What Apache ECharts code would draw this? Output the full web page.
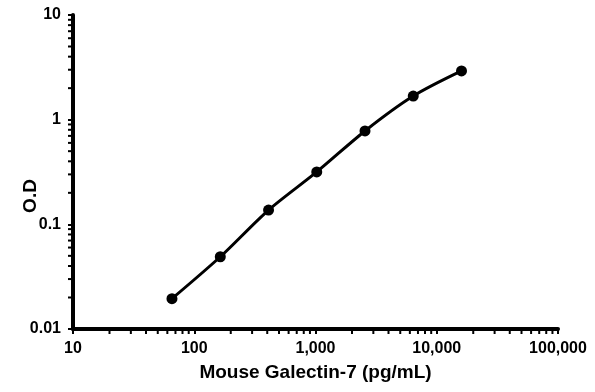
<!DOCTYPE html>
<html><head><meta charset="utf-8">
<script src="https://cdn.jsdelivr.net/npm/echarts@6/dist/echarts.min.js"></script>
<style>html,body{margin:0;padding:0;background:#fff}#c{width:595px;height:392px}</style>
</head><body><div id="c"></div>
<script>
const concentrations = [65.5, 164, 410, 1024, 2560, 6400, 16000];
const odValues = [0.0195, 0.049, 0.137, 0.317, 0.78, 1.68, 2.92];
const xTitle = 'Mouse Galectin-7 (pg/mL)';
const yTitle = 'O.D';
const xDecades = [10, 100, 1000, 10000];
const yDecades = [0.01, 0.1, 1];
const minorMultipliers = [2, 3, 4, 5, 6, 7, 8, 9];

const xMinor = [];
xDecades.forEach(d => minorMultipliers.forEach(m => xMinor.push(d * m)));
const yMinor = [];
yDecades.forEach(d => minorMultipliers.forEach(m => yMinor.push(+(d * m).toPrecision(3))));

const chart = echarts.init(document.getElementById('c'));
const font = 'Liberation Sans, Arial, sans-serif';
const tickLen = 3;

function minorTickSeries(values, isX) {
  return {
    type: 'custom', silent: true, clip: false, z: 1,
    data: values.map(v => isX ? [v, 0.01] : [10, v]),
    renderItem: (params, api) => {
      const p = api.coord([api.value(0), api.value(1)]);
      const shape = isX
        ? {x1: p[0], y1: p[1], x2: p[0], y2: p[1] + 2 + tickLen}
        : {x1: p[0], y1: p[1], x2: p[0] - 2 - tickLen, y2: p[1]};
      return {type: 'line', shape, style: {stroke: '#000', lineWidth: 2}};
    }
  };
}

chart.setOption({
  animation: false,
  backgroundColor: '#fff',
  grid: {left: 73, right: 37, top: 15, bottom: 63, containLabel: false, outerBoundsMode: 'none'},
  xAxis: {
    type: 'log', logBase: 10, min: 10, max: 100000,
    name: xTitle, nameLocation: 'middle', nameGap: 34, nameMoveOverlap: false,
    nameTextStyle: {fontFamily: font, fontWeight: 'bold', fontSize: 19, color: '#000'},
    axisLine: {lineStyle: {color: '#000', width: 4}},
    axisTick: {inside: false, length: 5, lineStyle: {color: '#000', width: 2}},
    splitLine: {show: false},
    axisLabel: {margin: 12, fontFamily: font, fontWeight: 'bold', fontSize: 16, color: '#000',
      formatter: v => Math.round(v).toLocaleString('en-US')}
  },
  yAxis: {
    type: 'log', logBase: 10, min: 0.01, max: 10,
    name: yTitle, nameLocation: 'middle', nameGap: 33, nameRotate: 90, nameMoveOverlap: false,
    nameTextStyle: {fontFamily: font, fontWeight: 'bold', fontSize: 19, color: '#000', padding: [0, 48, 0, 0]},
    axisLine: {lineStyle: {color: '#000', width: 4}},
    axisTick: {length: 5, lineStyle: {color: '#000', width: 2}},
    splitLine: {show: false},
    axisLabel: {margin: 12, fontFamily: font, fontWeight: 'bold', fontSize: 16, color: '#000',
      formatter: v => String(+v.toPrecision(3))}
  },
  series: [
    minorTickSeries(xMinor, true),
    minorTickSeries(yMinor, false),
    {
      type: 'line', smooth: 0.3, z: 3,
      data: concentrations.map((x, i) => [x, odValues[i]]),
      symbol: 'circle', symbolSize: 11,
      itemStyle: {color: '#000'},
      lineStyle: {color: '#000', width: 3}
    }
  ]
});
</script></body></html>
